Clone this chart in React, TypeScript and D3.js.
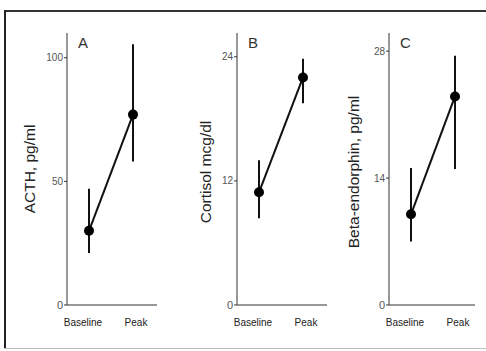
import React, { useEffect, useRef } from "react";
import * as d3 from "d3";

const categories = ["Baseline", "Peak"];
const panelLetters = ["A", "B", "C"];
const yLabels = ["ACTH, pg/ml", "Cortisol mcg/dl", "Beta-endorphin, pg/ml"];
const yMax = [110, 26.3, 30];
const yTicks = [[0, 50, 100], [0, 12, 24], [0, 14, 28]];

// mean, low, high for Baseline and Peak
const acthMean = [30, 77];
const acthLow = [21, 58];
const acthHigh = [47, 105.5];
const cortisolMean = [10.9, 22];
const cortisolLow = [8.4, 19.5];
const cortisolHigh = [14, 23.8];
const betaMean = [10, 23];
const betaLow = [7, 15];
const betaHigh = [15.1, 27.5];

const means = [acthMean, cortisolMean, betaMean];
const lows = [acthLow, cortisolLow, betaLow];
const highs = [acthHigh, cortisolHigh, betaHigh];

const W = 486;
const H = 351;
const font = "'Liberation Sans', Arial, sans-serif";

export default function App() {
  const ref = useRef<SVGSVGElement>(null);

  useEffect(() => {
    const svg = d3.select(ref.current);
    svg.selectAll("*").remove();

    svg.append("rect").attr("width", W).attr("height", H).attr("fill", "#fff");

    // frame
    svg.append("line").attr("x1", 4).attr("x2", W).attr("y1", 11).attr("y2", 11)
      .attr("stroke", "#333").attr("stroke-width", 2);
    svg.append("line").attr("x1", 5).attr("x2", 5).attr("y1", 10).attr("y2", 349)
      .attr("stroke", "#222").attr("stroke-width", 2);
    svg.append("line").attr("x1", 4).attr("x2", W).attr("y1", 348.5).attr("y2", 348.5)
      .attr("stroke", "#bbb").attr("stroke-width", 1);

    const axisX = [67, 237, 389];
    const axisEnd = [157, 327, 475];
    const labelX = [35, 211, 359];
    const labelY = [169, 172, 172];
    const y0 = 305;
    const yTop = 33;

    panelLetters.forEach((letter, i) => {
      const ax = axisX[i];
      const g = svg.append("g");
      const x = d3.scalePoint<string>()
        .domain(categories)
        .range([ax + 22, ax + 66]);
      const y = d3.scaleLinear().domain([0, yMax[i]]).range([y0, yTop]);

      // y axis
      g.append("line").attr("x1", ax).attr("x2", ax).attr("y1", y(yMax[i])).attr("y2", y0)
        .attr("stroke", "#333").attr("stroke-width", 1);
      // x axis
      g.append("line").attr("x1", ax).attr("x2", axisEnd[i]).attr("y1", y0).attr("y2", y0)
        .attr("stroke", "#333").attr("stroke-width", 1.2);

      yTicks[i].forEach(t => {
        g.append("line").attr("x1", ax - 3).attr("x2", ax).attr("y1", y(t)).attr("y2", y(t))
          .attr("stroke", "#333");
        g.append("text").attr("x", ax - 4).attr("y", y(t)).attr("dy", "0.35em")
          .attr("text-anchor", "end").attr("font-family", font)
          .attr("font-size", t === 0 ? 11 : 10).attr("fill", "#555").text(t);
      });

      categories.forEach(c => {
        g.append("text").attr("x", x(c)! + (c === "Baseline" ? -6 : 3)).attr("y", 326)
          .attr("text-anchor", "middle").attr("font-family", font)
          .attr("font-size", 10).attr("fill", "#222").text(c);
      });

      g.append("text").attr("x", ax + 11).attr("y", 48).attr("font-family", font)
        .attr("font-size", 15).attr("fill", "#333").text(letter);

      g.append("text")
        .attr("transform", `translate(${labelX[i]},${labelY[i]}) rotate(-90)`)
        .attr("text-anchor", "middle").attr("font-family", font)
        .attr("font-size", 15.5).attr("fill", "#222").text(yLabels[i]);

      const line = d3.line<number>()
        .x((d, j) => x(categories[j])!)
        .y(d => y(d));
      g.append("path").attr("d", line(means[i])).attr("fill", "none")
        .attr("stroke", "#111").attr("stroke-width", 2);

      categories.forEach((c, j) => {
        g.append("line").attr("x1", x(c)!).attr("x2", x(c)!)
          .attr("y1", y(lows[i][j])).attr("y2", y(highs[i][j]))
          .attr("stroke", "#111").attr("stroke-width", 2);
        g.append("circle").attr("cx", x(c)!).attr("cy", y(means[i][j])).attr("r", 5)
          .attr("fill", "#000");
      });
    });
  }, []);

  return <svg ref={ref} width={W} height={H} style={{ position: "absolute", left: 0, top: 0 }} />;
}
